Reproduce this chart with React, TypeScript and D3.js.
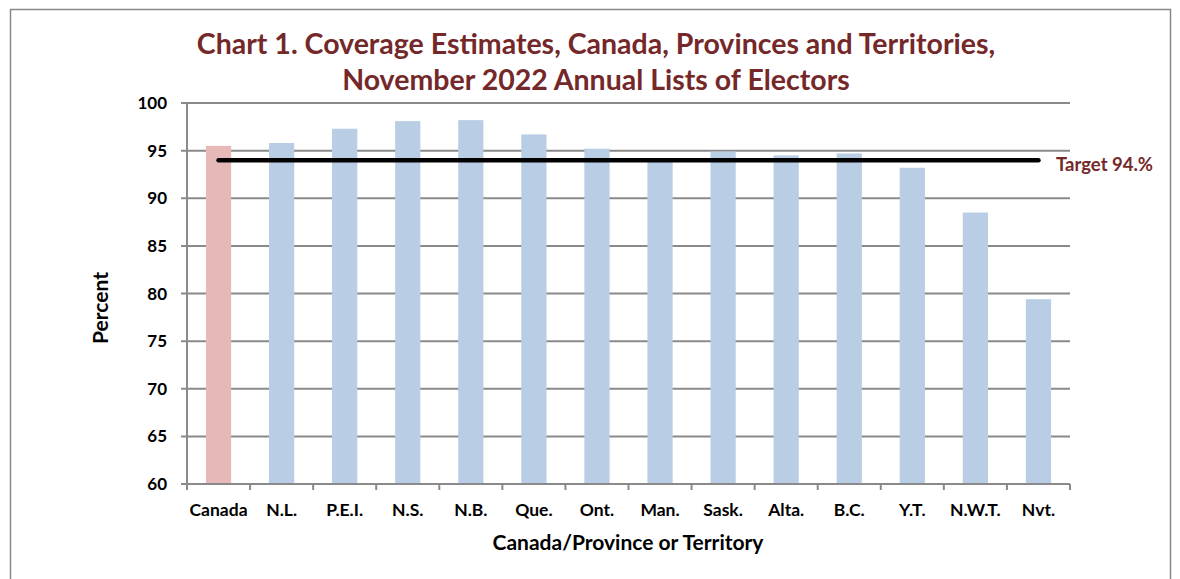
import React, { useEffect, useRef } from "react";
import * as d3 from "d3";

const categories = ["Canada", "N.L.", "P.E.I.", "N.S.", "N.B.", "Que.", "Ont.", "Man.", "Sask.", "Alta.", "B.C.", "Y.T.", "N.W.T.", "Nvt."];
const coverage = [95.5, 95.8, 97.3, 98.1, 98.2, 96.7, 95.2, 93.9, 94.9, 94.5, 94.7, 93.2, 88.5, 79.4];
const yTicks = [60, 65, 70, 75, 80, 85, 90, 95, 100];
const target = 94;
const titleLines = ["Chart 1. Coverage Estimates, Canada, Provinces and Territories,", "November 2022 Annual Lists of Electors"];
const targetLabel = "Target 94.%";
const xTitle = "Canada/Province or Territory";
const yTitle = "Percent";

const W = 1180, H = 579;
const M = { left: 187, right: 1070, top: 103, bottom: 484 };
const FONT = "Lato, 'Open Sans', sans-serif";
const TITLE_COLOR = "#742829";

export default function App() {
  const ref = useRef<SVGSVGElement>(null);
  useEffect(() => {
    const svg = d3.select(ref.current);
    svg.selectAll("*").remove();
    const x = d3.scaleBand<string>().domain(categories).range([M.left, M.right]).paddingInner(0.6).paddingOuter(0.3);
    const xb = d3.scaleBand<string>().domain(categories).range([M.left, M.right]);
    const y = d3.scaleLinear().domain([60, 100]).range([M.bottom, M.top]);

    svg.append("rect").attr("x", 10.5).attr("y", 9.5).attr("width", 1160).attr("height", 600)
      .attr("fill", "white").attr("stroke", "#898989").attr("stroke-width", 1.5);

    const t = svg.append("g").attr("font-family", FONT).attr("font-weight", "bold").attr("fill", TITLE_COLOR)
      .attr("font-size", 28.5).attr("text-anchor", "middle");
    titleLines.forEach((l, i) => t.append("text").attr("x", 596).attr("y", 54 + i * 36).text(l));

    // gridlines
    svg.append("g").selectAll("line").data(yTicks).join("line")
      .attr("x1", M.left - 6).attr("x2", M.right)
      .attr("y1", (d) => y(d)).attr("y2", (d) => y(d))
      .attr("stroke", "#8a8a8a").attr("stroke-width", 2);

    svg.append("g").attr("font-family", FONT).attr("font-weight", "bold").attr("font-size", 17)
      .attr("text-anchor", "end").selectAll("text").data(yTicks).join("text")
      .attr("x", 167).attr("y", (d) => y(d) + 6).text((d) => d);

    // bars
    svg.append("g").selectAll("rect").data(categories).join("rect")
      .attr("x", (d) => x(d)!).attr("width", x.bandwidth())
      .attr("y", (d, i) => y(coverage[i])).attr("height", (d, i) => y(60) - y(coverage[i]))
      .attr("fill", (d, i) => (i === 0 ? "#E6B9B8" : "#B9CDE5"));

    // axes
    svg.append("line").attr("x1", M.left).attr("x2", M.left).attr("y1", M.top).attr("y2", M.bottom)
      .attr("stroke", "#8a8a8a").attr("stroke-width", 2);
    svg.append("line").attr("x1", M.left - 6).attr("x2", M.right).attr("y1", M.bottom).attr("y2", M.bottom)
      .attr("stroke", "#8a8a8a").attr("stroke-width", 2);
    const bounds = categories.map((c) => xb(c)!).concat([M.right]);
    svg.append("g").selectAll("line").data(bounds).join("line")
      .attr("x1", (d) => d).attr("x2", (d) => d).attr("y1", M.bottom).attr("y2", M.bottom + 6)
      .attr("stroke", "#8a8a8a").attr("stroke-width", 2);

    // target line
    const cx = (c: string) => xb(c)! + xb.bandwidth() / 2;
    svg.append("line").attr("x1", cx(categories[0])).attr("x2", cx(categories[categories.length - 1]))
      .attr("y1", y(target)).attr("y2", y(target))
      .attr("stroke", "black").attr("stroke-width", 4.5).attr("stroke-linecap", "round");
    svg.append("text").attr("x", 1056).attr("y", 171).attr("font-family", FONT)
      .attr("font-weight", "bold").attr("font-size", 18.5).attr("fill", TITLE_COLOR).text(targetLabel);

    // x labels
    svg.append("g").attr("font-family", FONT).attr("font-weight", "bold").attr("font-size", 17.5)
      .attr("text-anchor", "middle").selectAll("text").data(categories).join("text")
      .attr("x", (d) => cx(d)).attr("y", 516).text((d) => d);

    svg.append("text").attr("x", 628).attr("y", 550).attr("text-anchor", "middle").attr("font-family", FONT)
      .attr("font-weight", "bold").attr("font-size", 21).text(xTitle);
    svg.append("text").attr("transform", "translate(108,308) rotate(-90)").attr("text-anchor", "middle")
      .attr("font-family", FONT).attr("font-weight", "bold").attr("font-size", 21).text(yTitle);
  }, []);
  return (
    <svg ref={ref} width={W} height={H} style={{ position: "absolute", left: 0, top: 0, background: "white" }} />
  );
}
